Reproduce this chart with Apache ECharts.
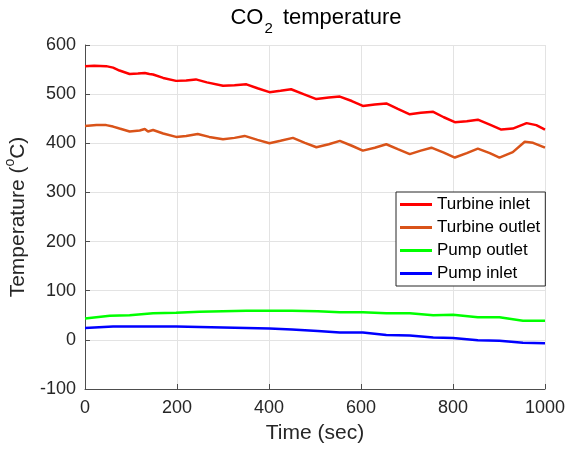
<!DOCTYPE html>
<html>
<head>
<meta charset="utf-8">
<script src="https://cdn.jsdelivr.net/npm/echarts@6/dist/echarts.min.js"></script>
<style>html,body{margin:0;padding:0;background:#fff}#c{width:568px;height:452px}</style>
</head>
<body>
<div id="c"></div>
<script>
const seriesNames = ['Turbine inlet', 'Turbine outlet', 'Pump outlet', 'Pump inlet'];
const xTicks = [0, 200, 400, 600, 800, 1000];
const yTicks = [-100, 0, 100, 200, 300, 400, 500, 600];

const turbineInletTime = [0, 20, 46, 61, 75, 97, 115, 130, 140, 148, 170, 198, 220, 241, 265, 300, 325, 351, 375, 401, 425, 448, 475, 503, 530, 554, 580, 604, 630, 655, 680, 706, 730, 757, 780, 804, 830, 854, 880, 905, 930, 960, 981, 1000];
const turbineInletTemp = [557, 558, 557, 554, 548, 541, 542, 543, 541, 540, 533, 527, 528, 530, 524, 517, 518, 520, 512, 504, 507, 510, 500, 490, 493, 495, 486, 476, 479, 481, 470, 459, 462, 464, 453, 443, 445, 448, 438, 428, 430, 441, 437, 428];

const turbineOutletTime = [0, 25, 46, 61, 75, 97, 119, 130, 137, 148, 170, 198, 220, 245, 270, 300, 325, 347, 375, 401, 425, 452, 478, 503, 530, 554, 580, 604, 630, 655, 680, 706, 730, 753, 780, 804, 830, 854, 880, 901, 930, 956, 974, 1000];
const turbineOutletTemp = [435, 437, 437, 434, 430, 424, 426, 429, 424, 427, 420, 413, 415, 419, 413, 408, 411, 415, 407, 400, 405, 411, 401, 392, 398, 405, 395, 385, 391, 398, 388, 378, 385, 391, 381, 371, 380, 389, 380, 371, 382, 403, 401, 391];

const pumpOutletTime = [0, 54, 97, 148, 198, 249, 300, 351, 401, 450, 506, 554, 604, 655, 706, 757, 800, 854, 901, 952, 1000];
const pumpOutletTemp = [43.5, 49, 50, 54, 55, 57, 58, 59, 59, 59, 58, 56, 56, 54, 54, 50, 51, 46, 46, 39, 39];

const pumpInletTime = [0, 61, 133, 198, 300, 401, 450, 506, 554, 604, 655, 706, 757, 800, 854, 901, 952, 1000];
const pumpInletTemp = [24, 27, 27, 27, 25, 23, 21, 18, 15, 15, 10, 9, 5, 4, -1, -2, -6, -7];

const colors = ['#ff0000', '#d95319', '#00ff00', '#0000ff'];
const times = [turbineInletTime, turbineOutletTime, pumpOutletTime, pumpInletTime];
const temps = [turbineInletTemp, turbineOutletTemp, pumpOutletTemp, pumpInletTemp];

const chart = echarts.init(document.getElementById('c'), null, {renderer: 'canvas'});
const font = 'Liberation Sans, Arial, sans-serif';
const axisColor = '#4d4d4d';
const textColor = '#262626';

chart.setOption({
  animation: false,
  backgroundColor: '#fff',
  color: colors,
  title: {
    text: '{a|CO}{s|2}{a| temperature}',
    left: 316,
    textAlign: 'center',
    top: 7,
    padding: 0,
    textStyle: {
      fontWeight: 'normal',
      rich: {
        a: {fontFamily: font, fontSize: 22, fontWeight: 'normal', color: '#000', lineHeight: 29, verticalAlign: 'top'},
        s: {fontFamily: font, fontSize: 15, fontWeight: 'normal', color: '#000', lineHeight: 29, verticalAlign: 'bottom', padding: [0, 4, 0, 1]}
      }
    }
  },
  grid: {left: 85, right: 23, top: 45, bottom: 63, containLabel: false, outerBoundsMode: 'none'},
  legend: {
    data: seriesNames,
    orient: 'vertical',
    left: 396,
    top: 192,
    icon: 'rect',
    itemWidth: 32,
    itemHeight: 3,
    itemGap: 6,
    padding: [4, 5, 4, 4],
    borderColor: '#262626',
    borderWidth: 1,
    backgroundColor: '#fff',
    textStyle: {fontFamily: font, fontSize: 17, color: '#000', lineHeight: 17}
  },
  xAxis: {
    type: 'value',
    min: 0, max: 1000, interval: 200,
    name: 'Time (sec)',
    nameLocation: 'middle',
    nameGap: 34,
    nameTextStyle: {fontFamily: font, fontSize: 21, color: textColor},
    axisLine: {show: true, onZero: false, lineStyle: {color: axisColor, width: 1}},
    axisTick: {show: true, inside: true, length: 5, lineStyle: {color: axisColor}},
    axisLabel: {fontFamily: font, fontSize: 18, color: textColor, margin: 10, formatter: v => String(v)},
    splitLine: {show: true, lineStyle: {color: '#e3e3e3', width: 1}}
  },
  yAxis: {
    type: 'value',
    min: -100, max: 600, interval: 100,
    name: '{a|Temperature (}{s|o}{a|C)}',
    nameLocation: 'middle',
    nameGap: 52,
    nameTextStyle: {
      rich: {
        a: {fontFamily: font, fontSize: 21, color: textColor, lineHeight: 26, verticalAlign: 'bottom'},
        s: {fontFamily: font, fontSize: 14, color: textColor, lineHeight: 26, verticalAlign: 'top'}
      }
    },
    axisLine: {show: true, onZero: false, lineStyle: {color: axisColor, width: 1}},
    axisTick: {show: true, inside: true, length: 5, lineStyle: {color: axisColor}},
    axisLabel: {fontFamily: font, fontSize: 18, color: textColor, margin: 9, formatter: v => String(v)},
    splitLine: {show: true, lineStyle: {color: '#e3e3e3', width: 1}}
  },
  series: seriesNames.map((name, i) => ({
    name: name,
    type: 'line',
    showSymbol: false,
    symbol: 'none',
    smooth: false,
    lineStyle: {width: 2.5, color: colors[i]},
    itemStyle: {color: colors[i]},
    data: times[i].map((t, j) => [t, temps[i][j]])
  }))
});
</script>
</body>
</html>
